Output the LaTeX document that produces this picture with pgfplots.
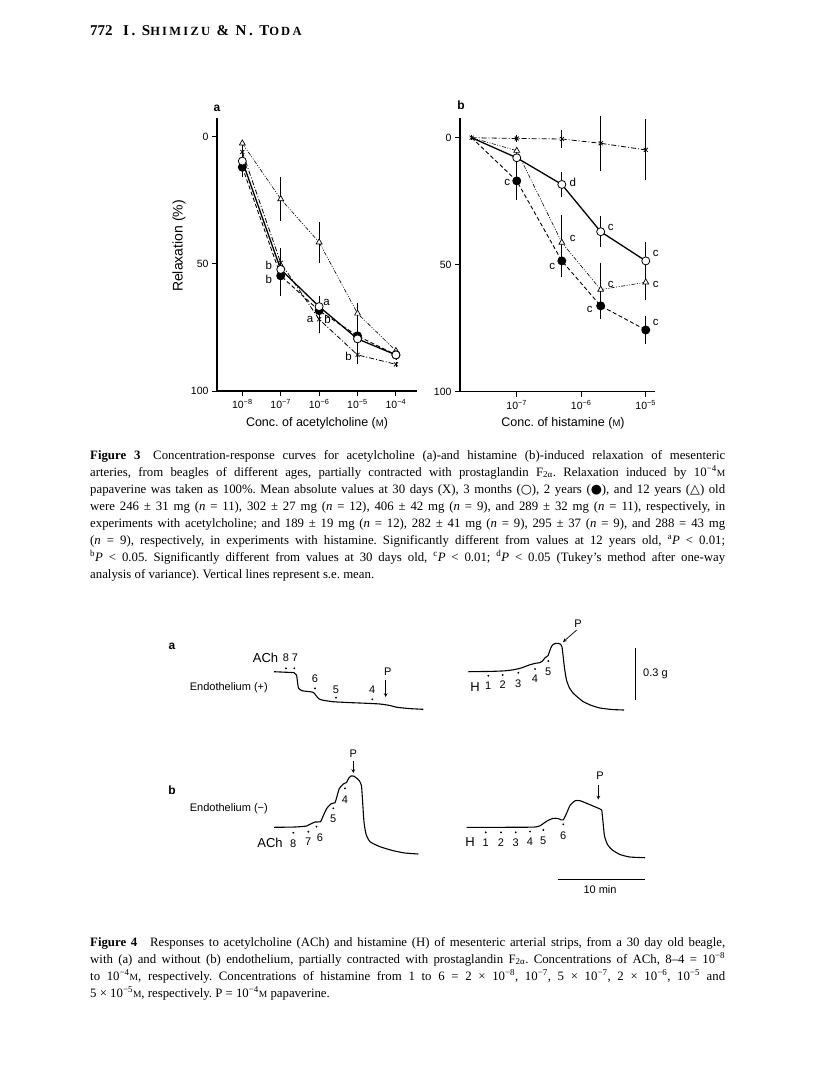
\documentclass[border=0pt]{standalone}
\usepackage{fontspec}
\setmainfont{Liberation Serif}
\setsansfont{Liberation Sans}
\newfontfamily\sym{DejaVu Sans}
\usepackage{pgfplots}
\pgfplotsset{compat=1.18}

\tikzset{
  eb/.style={/pgfplots/error bars/y dir=both, /pgfplots/error bars/y explicit,
    /pgfplots/error bars/error bar style={solid, line width=0.8pt},
    /pgfplots/error bars/error mark options={solid, mark size=2.6pt, line width=0.8pt}},
  d30/.style={black, line width=0.8pt, dash pattern=on 5pt off 2pt on 1pt off 2pt,
    mark=x, mark size=2.8pt, mark options={solid, line width=0.8pt}, eb},
  m3/.style={black, line width=1.3pt, mark=*, mark size=4pt,
    mark options={solid, fill=white, line width=0.8pt}, eb},
  y2/.style={black, line width=0.9pt, dash pattern=on 4pt off 2.5pt,
    mark=*, mark size=4pt, mark options={solid, fill=black}, eb},
  y12/.style={black, line width=0.6pt, dash pattern=on 4pt off 1.5pt on 1pt off 1.5pt on 1pt off 1.5pt,
    mark=triangle*, mark size=3.4pt, mark options={solid, fill=white, line width=0.7pt}, eb},
  lab/.style={font=\sffamily\fontsize{11.5}{13}\selectfont, inner sep=0pt},
  trace/.style={black, line width=1.1pt, mark=none, smooth, tension=0.35},
}

\begin{document}
\frenchspacing
\begin{tikzpicture}
\path[use as bounding box, fill=white] (0pt,0pt) rectangle (816pt,-1092pt);

% running head
\node[anchor=base west, inner sep=0pt, font=\bfseries\fontsize{15}{17}\selectfont] at (90pt,-35pt) {772};
\node[anchor=base west, inner sep=0pt, font=\bfseries\fontsize{15}{17}\selectfont\addfontfeature{LetterSpace=18}] at (123pt,-35pt)
  {I. S{\fontsize{12.5}{14}\selectfont HIMIZU} \& N. T{\fontsize{12.5}{14}\selectfont ODA}};

% ---------- Figure 3a: acetylcholine
\begin{axis}[scale only axis, xmode=log, y dir=reverse, ymax=100,
  axis x line*=bottom, axis y line*=left, axis line style={-, line width=1.3pt},
  tick align=outside, major tick length=5pt, tick style={line width=1pt, black},
  minor tick style={draw=none}, minor tick length=0pt,
  /pgf/number format/assume math mode=true,
  ytick={0,50,100}, tick label style={font=\sffamily\fontsize{10.5}{12}\selectfont}, clip=false,
  at={(217pt,-391pt)}, anchor=south west,
  width=200pt, height=273pt, xmin=2.19e-9, xmax=3.54e-4, ymin=-7.35,
  xtick={1e-8,1e-7,1e-6,1e-5,1e-4},
  xticklabels={10\textsuperscript{\textminus8},10\textsuperscript{\textminus7},10\textsuperscript{\textminus6},10\textsuperscript{\textminus5},10\textsuperscript{\textminus4}}]
\addplot[y12] coordinates {(1e-8,2.6) +- (0,0) (1e-7,24.5) +- (0,7.5) (1e-6,41.5) +- (0,7) (1e-5,69.5) +- (0,3) (1e-4,84.2) +- (0,0)};
\addplot[d30] coordinates {(1e-8,6) +- (0,1.5) (1e-7,49.6) +- (0,5) (1e-6,71.8) +- (0,4.5) (1e-5,85.8) +- (0,2.5) (1e-4,89.5) +- (0,0)};
\addplot[y2] coordinates {(1e-8,12) +- (0,3) (1e-7,54.7) +- (0,7) (1e-6,68.4) +- (0,3.5) (1e-5,78.3) +- (0,4) (1e-4,85.8) +- (0,1)};
\addplot[m3] coordinates {(1e-8,9.6) +- (0,1) (1e-7,52.2) +- (0,2) (1e-6,66.8) +- (0,3) (1e-5,79.5) +- (0,2) (1e-4,85.8) +- (0,1)};
\node[lab] at (axis cs:1e-7,50.8) [xshift=-12pt] {b};
\node[lab] at (axis cs:1e-7,56) [xshift=-12pt] {b};
\node[lab] at (axis cs:1e-6,65) [xshift=7.5pt] {a};
\node[lab] at (axis cs:1e-6,72) [xshift=-9pt] {a};
\node[lab] at (axis cs:1e-6,71.7) [xshift=8.5pt] {b};
\node[lab] at (axis cs:1e-5,86.2) [xshift=-9pt] {b};
\end{axis}

% ---------- Figure 3b: histamine
\begin{axis}[scale only axis, xmode=log, y dir=reverse, ymax=100,
  axis x line*=bottom, axis y line*=left, axis line style={-, line width=1.3pt},
  tick align=outside, major tick length=5pt, tick style={line width=1pt, black},
  minor tick style={draw=none}, minor tick length=0pt,
  /pgf/number format/assume math mode=true,
  ytick={0,50,100}, tick label style={font=\sffamily\fontsize{10.5}{12}\selectfont}, clip=false,
  at={(460pt,-391.7pt)}, anchor=south west,
  width=195pt, height=273.7pt, xmin=1.32e-8, xmax=1.39e-5, ymin=-7.76,
  xtick={1e-7,1e-6,1e-5},
  xticklabels={10\textsuperscript{\textminus7},10\textsuperscript{\textminus6},10\textsuperscript{\textminus5}}]
\addplot[y12, mark indices={2,3,4,5}] coordinates {(2e-8,0) +- (0,0) (1e-7,5.1) +- (0,0) (5e-7,41.3) +- (0,10) (2e-6,59.8) +- (0,9.5) (1e-5,56.9) +- (0,6)};
\addplot[y2, mark indices={2,3,4,5}] coordinates {(2e-8,0) +- (0,0) (1e-7,17) +- (0,6.5) (5e-7,48.5) +- (0,5.5) (2e-6,66.2) +- (0,4) (1e-5,75.7) +- (0,4.5)};
\addplot[m3, mark indices={2,3,4,5}] coordinates {(2e-8,0) +- (0,0) (1e-7,7.9) +- (0,3) (5e-7,18.4) +- (0,4) (2e-6,37) +- (0,5) (1e-5,48.5) +- (0,6.5)};
\addplot[d30] coordinates {(2e-8,0) +- (0,0) (1e-7,0.3) +- (0,0.5) (5e-7,0.5) +- (0,2.5) (2e-6,2.2) +- (0,9.7) (1e-5,4.8) +- (0,11)};
\node[lab] at (axis cs:1e-7,17.8) [xshift=-9.5pt] {c};
\node[lab] at (axis cs:5e-7,17.4) [xshift=11pt] {d};
\node[lab] at (axis cs:5e-7,39.5) [xshift=11pt] {c};
\node[lab] at (axis cs:5e-7,50.5) [xshift=-9.5pt] {c};
\node[lab] at (axis cs:2e-6,35.5) [xshift=10pt] {c};
\node[lab] at (axis cs:2e-6,57.6) [xshift=10pt] {c};
\node[lab] at (axis cs:2e-6,67.5) [xshift=-11pt] {c};
\node[lab] at (axis cs:1e-5,45.5) [xshift=10pt] {c};
\node[lab] at (axis cs:1e-5,57.6) [xshift=10pt] {c};
\node[lab] at (axis cs:1e-5,72.6) [xshift=10pt] {c};
\end{axis}

% axis titles and panel letters
\node[font=\sffamily\bfseries\fontsize{12}{14}\selectfont, inner sep=0pt] at (217pt,-108pt) {a};
\node[font=\sffamily\bfseries\fontsize{12}{14}\selectfont, inner sep=0pt] at (461pt,-105pt) {b};
\node[rotate=90, font=\sffamily\fontsize{14}{16}\selectfont, inner sep=0pt] at (179pt,-246pt) {Relaxation (\%)};
\node[font=\sffamily\fontsize{12.5}{14}\selectfont, inner sep=0pt] at (317pt,-423pt) {Conc. of acetylcholine ({\fontsize{9.5}{10}\selectfont M})};
\node[font=\sffamily\fontsize{12.5}{14}\selectfont, inner sep=0pt] at (563pt,-423pt) {Conc. of histamine ({\fontsize{9.5}{10}\selectfont M})};

% ---------- Figure 3 caption
\begin{scope}[every node/.style={anchor=base west, inner sep=0pt, font=\fontsize{12.8}{17}\selectfont}]
\node at (90pt,-459pt) {\makebox[635pt][s]{\textbf{Figure 3}\quad Concentration-response curves for acetylcholine (a)-and histamine (b)-induced relaxation of mesenteric}};
\node at (90pt,-476pt) {\makebox[635pt][s]{arteries, from beagles of different ages, partially contracted with prostaglandin F\textsubscript{2α}. Relaxation induced by 10\textsuperscript{\textminus4}{\fontsize{9.5}{10}\selectfont M}}};
\node at (90pt,-493pt) {\makebox[635pt][s]{papaverine was taken as 100\%. Mean absolute values at 30 days (X), 3 months ({\sym ○}), 2 years ({\sym ●}), and 12 years ({\sym △}) old}};
\node at (90pt,-510pt) {\makebox[635pt][s]{were 246 ± 31 mg (\textit{n} = 11), 302 ± 27 mg (\textit{n} = 12), 406 ± 42 mg (\textit{n} = 9), and 289 ± 32 mg (\textit{n} = 11), respectively, in}};
\node at (90pt,-527pt) {\makebox[635pt][s]{experiments with acetylcholine; and 189 ± 19 mg (\textit{n} = 12), 282 ± 41 mg (\textit{n} = 9), 295 ± 37 (\textit{n} = 9), and 288 = 43 mg}};
\node at (90pt,-544pt) {\makebox[635pt][s]{(\textit{n} = 9), respectively, in experiments with histamine. Significantly different from values at 12 years old, \textsuperscript{a}\textit{P} < 0.01;}};
\node at (90pt,-561pt) {\makebox[635pt][s]{\textsuperscript{b}\textit{P} < 0.05. Significantly different from values at 30 days old, \textsuperscript{c}\textit{P} < 0.01; \textsuperscript{d}\textit{P} < 0.05 (Tukey's method after one-way}};
\node at (90pt,-578pt) {analysis of variance). Vertical lines represent s.e. mean.};
\end{scope}

% ---------- Figure 4: tension records
\begin{axis}[at={(150pt,-900pt)}, anchor=south west, scale only axis,
  width=550pt, height=300pt, xmin=150, xmax=700, ymin=600, ymax=900,
  y dir=reverse, hide axis, clip=false]
% a, ACh
\addplot[trace] coordinates {(274,671.7) (285,672.2) (294,672.7) (296.5,675) (297.5,682) (298.5,688) (302,690.7) (310,691.7) (313.5,692.5) (316,695.5) (318.5,698.5) (322,700) (333,701.7) (350,702.6) (367,703.3) (380,704) (390,705.5) (397,707.3) (410,708.6) (423.3,709.3)};
% a, H
\addplot[trace] coordinates {(468.3,671.7) (490,671.4) (505,670.8) (515,669.5) (522,667.7) (530,664.7) (536,663.2) (540,662.6) (542.5,661) (545,657.8) (548,655.6) (550,650) (552,645.5) (555,643.5) (558,643.3) (560.5,644.2) (562,647) (563,655) (564.5,668) (566.5,680) (569.5,688) (573,693) (578,697.5) (583,701.5) (591,705.3) (600,708) (612,709.5) (624,710)};
% b, ACh
\addplot[trace] coordinates {(274,827.3) (295,827) (306.7,826) (310,824.3) (315,822) (320.5,821.7) (322.7,817) (326.7,808.5) (331.5,803.5) (335,802.7) (336.8,797) (339.3,788.5) (343.3,784) (346.5,782.5) (348.5,778.5) (351,776) (354,776.2) (357,778.5) (359.5,781) (361.5,786) (362.5,800) (364,822) (366,834) (370,841.7) (380,846.7) (393.3,850.7) (405,853) (418.3,854)};
% b, H
\addplot[trace] coordinates {(466.7,827.3) (500,827.3) (533.3,827.1) (540,825.8) (544,823) (548.3,820.3) (553.3,818.3) (558,818.5) (561,819.8) (563.3,819.8) (566.7,813) (570,805.5) (575,800.8) (580,800.7) (588.3,804) (595,806.8) (599.5,808.7) (601.7,810) (603,822) (604.5,836) (607.5,844.5) (612,849.8) (620,854.5) (630,857) (645,857.7)};
% drug additions
\addplot[only marks, mark=*, mark size=0.7pt, black] coordinates {(286,668.3) (294.3,668.3) (315,688.3) (336,697.7) (372.3,699.3)
  (488.3,675.7) (502.7,675) (518.3,672.7) (535,669) (548.3,661)
  (293.3,832.7) (308.3,831.7) (316.5,826.7) (333.3,808.3) (345,788.3)
  (485.7,832.3) (501,832.3) (515.7,832.3) (530,831.5) (543.3,830) (563.3,824.3)};
% calibration bars
\addplot[black, line width=1pt] coordinates {(635.7,648.3) (635.7,700)};
\addplot[black, line width=1pt] coordinates {(558.3,879.3) (645,879.3)};
% papaverine arrows
\draw[-stealth, line width=0.7pt] (axis cs:385.7,680) -- (axis cs:385.7,697);
\draw[-stealth, line width=0.7pt] (axis cs:576.7,630) -- (axis cs:563,642);
\draw[-stealth, line width=0.7pt] (axis cs:353.3,761) -- (axis cs:353.3,773);
\draw[-stealth, line width=0.7pt] (axis cs:598.3,785) -- (axis cs:598.3,799.5);
\begin{scope}[every node/.style={font=\sffamily\fontsize{11}{12}\selectfont, inner sep=0pt}]
\node[font=\sffamily\bfseries\fontsize{12}{14}\selectfont] at (axis cs:172,646) {a};
\node[font=\sffamily\bfseries\fontsize{12}{14}\selectfont] at (axis cs:172,790) {b};
\node[font=\sffamily\fontsize{13}{15}\selectfont] at (axis cs:265.5,658) {ACh};
\node at (axis cs:286,658) {8};
\node at (axis cs:295,658) {7};
\node[anchor=east] at (axis cs:268,687.3) {Endothelium (+)};
\node at (axis cs:315,678.3) {6};
\node at (axis cs:336,689.3) {5};
\node at (axis cs:372.3,689.3) {4};
\node at (axis cs:387.7,671.7) {P};
\node[font=\sffamily\fontsize{13}{15}\selectfont] at (axis cs:475,686.7) {H};
\node at (axis cs:488.3,686) {1};
\node at (axis cs:502.7,685) {2};
\node at (axis cs:518.3,683.3) {3};
\node at (axis cs:535,678.3) {4};
\node at (axis cs:548.3,671.7) {5};
\node at (axis cs:578,624) {P};
\node[anchor=west] at (axis cs:643,673.3) {0.3 g};
\node[anchor=east] at (axis cs:268,809) {Endothelium (\textminus)};
\node[font=\sffamily\fontsize{13}{15}\selectfont] at (axis cs:270,843) {ACh};
\node at (axis cs:293.3,843.3) {8};
\node at (axis cs:308.3,841.7) {7};
\node at (axis cs:320,837.3) {6};
\node at (axis cs:333.3,819) {5};
\node at (axis cs:345,799.3) {4};
\node at (axis cs:353.3,754) {P};
\node[font=\sffamily\fontsize{13}{15}\selectfont] at (axis cs:470,842.3) {H};
\node at (axis cs:485.7,842.3) {1};
\node at (axis cs:501,842.3) {2};
\node at (axis cs:515.7,842.3) {3};
\node at (axis cs:530,841.7) {4};
\node at (axis cs:543.3,840.7) {5};
\node at (axis cs:563.3,836) {6};
\node at (axis cs:600,775.7) {P};
\node at (axis cs:600,889.3) {10 min};
\end{scope}
\end{axis}

% ---------- Figure 4 caption
\begin{scope}[every node/.style={anchor=base west, inner sep=0pt, font=\fontsize{12.8}{17}\selectfont}]
\node at (90pt,-946pt) {\makebox[635pt][s]{\textbf{Figure 4}\quad Responses to acetylcholine (ACh) and histamine (H) of mesenteric arterial strips, from a 30 day old beagle,}};
\node at (90pt,-963pt) {\makebox[635pt][s]{with (a) and without (b) endothelium, partially contracted with prostaglandin F\textsubscript{2α}. Concentrations of ACh, 8\textendash4 = 10\textsuperscript{\textminus8}}};
\node at (90pt,-980pt) {\makebox[635pt][s]{to 10\textsuperscript{\textminus4}{\fontsize{9.5}{10}\selectfont M}, respectively. Concentrations of histamine from 1 to 6 = 2 × 10\textsuperscript{\textminus8}, 10\textsuperscript{\textminus7}, 5 × 10\textsuperscript{\textminus7}, 2 × 10\textsuperscript{\textminus6}, 10\textsuperscript{\textminus5} and}};
\node at (90pt,-997pt) {5 × 10\textsuperscript{\textminus5}{\fontsize{9.5}{10}\selectfont M}, respectively. P = 10\textsuperscript{\textminus4}{\fontsize{9.5}{10}\selectfont M} papaverine.};
\end{scope}
\end{tikzpicture}
\end{document}
